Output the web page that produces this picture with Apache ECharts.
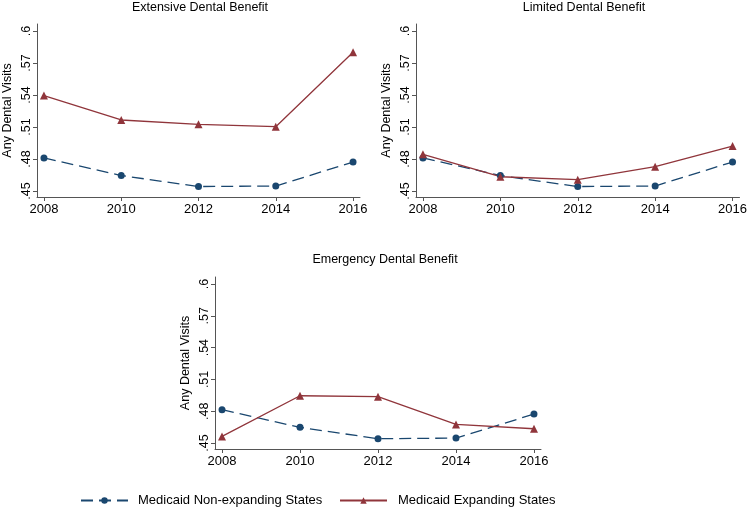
<html>
<head>
<meta charset="utf-8">
<title>Any Dental Visits</title>
<script src="https://cdn.jsdelivr.net/npm/echarts@6/dist/echarts.min.js"></script>
</head>
<body style="margin:0;background:#fff">
<div id="main" style="width:750px;height:509px;"></div>
<script type="text/javascript">
// data
var years = [2008, 2010, 2012, 2014, 2016];
var yTicks = [0.45, 0.48, 0.51, 0.54, 0.57, 0.6];
var panelTitles = ['Extensive Dental Benefit', 'Limited Dental Benefit', 'Emergency Dental Benefit'];
var extNon = [0.481, 0.4645, 0.4542, 0.4547, 0.4772];
var extExp = [0.5395, 0.5166, 0.5125, 0.5103, 0.5802];
var limNon = [0.481, 0.4645, 0.4542, 0.4547, 0.4772];
var limExp = [0.4844, 0.4634, 0.4606, 0.4728, 0.4922];
var emgNon = [0.4815, 0.4648, 0.4541, 0.4547, 0.4773];
var emgExp = [0.4563, 0.4946, 0.4937, 0.4676, 0.4635];
var nonName = 'Medicaid Non-expanding States';
var expName = 'Medicaid Expanding States';

var blue = '#1a476f', red = '#90353b', axisGray = '#555';

var grids = [
    {left: 31, top: 24, width: 329, height: 173},
    {left: 416, top: 24, width: 326, height: 173},
    {left: 215, top: 277, width: 326, height: 172}
];

function pairs(vals) {
    return years.map(function (y, i) { return [y, vals[i]]; });
}

var xAxes = [], yAxes = [], series = [];
var sets = [[extNon, extExp], [limNon, limExp], [emgNon, emgExp]];
grids.forEach(function (g, i) {
    xAxes.push({
        type: 'value', gridIndex: i, min: 2007.82, max: 2016.18,
        axisLine: {show: true, lineStyle: {color: axisGray, width: 1}},
        axisTick: {show: true, length: 4, customValues: years, lineStyle: {color: axisGray}},
        axisLabel: {
            customValues: years, color: '#000', fontSize: 13, fontFamily: 'Liberation Sans', margin: 6,
            formatter: function (v) { return String(v); }
        },
        splitLine: {show: false}
    });
    yAxes.push({
        type: 'value', gridIndex: i, min: 0.4444, max: 0.6066,
        name: 'Any Dental Visits', nameLocation: 'middle', nameGap: 23, nameRotate: 90,
        nameTextStyle: {color: '#000', fontSize: 12.5, fontFamily: 'Liberation Sans'},
        axisLine: {show: true, lineStyle: {color: axisGray, width: 1}},
        axisTick: {show: true, length: 4, customValues: yTicks, lineStyle: {color: axisGray}},
        axisLabel: {
            customValues: yTicks, rotate: 90, color: '#000', fontSize: 12.5, fontFamily: 'Liberation Sans', margin: 4,
            formatter: function (v) { return String(Math.round(v * 100) / 100).replace(/^0/, ''); }
        },
        splitLine: {show: false}
    });
    series.push({
        name: nonName, type: 'line', xAxisIndex: i, yAxisIndex: i,
        data: pairs(sets[i][0]), symbol: 'circle', symbolSize: 7,
        itemStyle: {color: blue}, lineStyle: {color: blue, width: 1.3, type: [12, 6]}
    });
    series.push({
        name: expName, type: 'line', xAxisIndex: i, yAxisIndex: i,
        data: pairs(sets[i][1]), symbol: 'triangle', symbolSize: 8,
        itemStyle: {color: red}, lineStyle: {color: red, width: 1.3}
    });
});

var myChart = echarts.init(document.getElementById('main'));
myChart.setOption({
    backgroundColor: '#fff',
    animation: false,
    title: [
        {text: panelTitles[0], left: 195, top: -4, textAlign: 'center'},
        {text: panelTitles[1], left: 579, top: -4, textAlign: 'center'},
        {text: panelTitles[2], left: 380, top: 248, textAlign: 'center'}
    ].map(function (t) {
        t.textStyle = {fontSize: 12.5, fontWeight: 'normal', color: '#000', fontFamily: 'Liberation Sans'};
        return t;
    }),
    legend: [
        {data: [nonName], left: 80, top: 494, padding: 0, itemWidth: 47, itemHeight: 8,
         textStyle: {fontSize: 13, color: '#000', fontFamily: 'Liberation Sans', padding: [0, 0, 0, 5]}},
        {data: [expName], left: 339, top: 494, padding: 0, itemWidth: 47, itemHeight: 8,
         textStyle: {fontSize: 13, color: '#000', fontFamily: 'Liberation Sans', padding: [0, 0, 0, 6]}}
    ],
    grid: grids,
    xAxis: xAxes,
    yAxis: yAxes,
    series: series
});
</script>
</body>
</html>
